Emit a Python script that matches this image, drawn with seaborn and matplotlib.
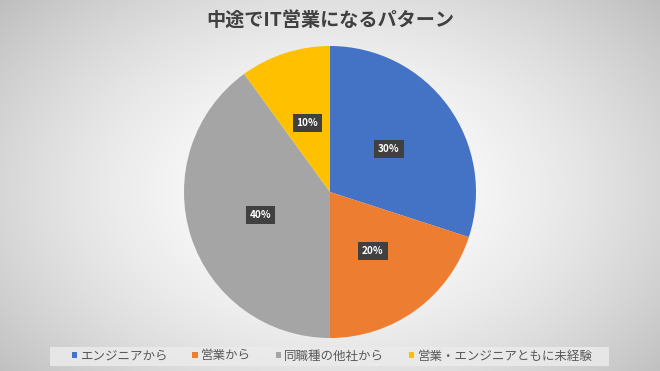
import numpy as np
import matplotlib
matplotlib.use("Agg")
import matplotlib.pyplot as plt
import seaborn as sns
from matplotlib.patches import Patch, Rectangle

# ---------------- DATA ----------------
title = "中途でIT営業になるパターン"
categories = ["エンジニアから", "営業から", "同職種の他社から", "営業・エンジニアともに未経験"]
shares = [30, 20, 40, 10]
colors = ["#4472C4", "#ED7D31", "#A5A5A5", "#FFC000"]

# ---------------- STYLE ----------------
sns.set_theme(style="white")
plt.rcParams["font.family"] = ["Noto Sans CJK JP", "DejaVu Sans"]

W, H = 660, 371
fig = plt.figure(figsize=(W / 100, H / 100), dpi=100)

# radial gradient background
bg = fig.add_axes([0, 0, 1, 1])
yy, xx = np.mgrid[0:H, 0:W]
d = np.sqrt(((xx - 330) / 430.0) ** 2 + ((yy - 190) / 290.0) ** 2)
val = 1.0 - 0.25 * np.clip(d, 0, 1.1) ** 1.7
bg.imshow(np.dstack([val, val, val]), extent=[0, 1, 0, 1], aspect="auto", zorder=0)
bg.set_xlim(0, 1)
bg.set_ylim(0, 1)
bg.set_axis_off()

# legend backdrop
bg.add_patch(Rectangle((50 / W, 1 - 366 / H), 559 / W, 19 / H,
                       facecolor="#ebebeb", edgecolor="none", alpha=0.85, zorder=1))

# pie
ax = fig.add_axes([184 / W, 33 / H, 292 / W, 292 / H])
wedges, texts, autotexts = ax.pie(
    shares,
    colors=sns.color_palette(colors),
    startangle=90,
    counterclock=False,
    radius=1.0,
    autopct="%d%%",
    pctdistance=0.5,
    wedgeprops=dict(linewidth=0),
    textprops=dict(color="white", fontsize=7.2, fontweight="bold"),
)
for t in autotexts:
    t.set_bbox(dict(boxstyle="square,pad=0.4", facecolor="#404040", edgecolor="none"))
ax.set_xlim(-1, 1)
ax.set_ylim(-1, 1)
ax.set_aspect("auto")
ax.set_axis_off()

fig.text(0.5, 1 - 20.5 / H, title, ha="center", va="center",
         fontsize=13.8, fontweight="bold", color="#404040")

handles = [Patch(facecolor=c, edgecolor="none") for c in colors]
leg = fig.legend(
    handles, categories,
    loc="center", bbox_to_anchor=(332 / W, 1 - 356 / H),
    ncol=4, frameon=False, fontsize=9.0,
    handlelength=0.45, handleheight=0.45, handletextpad=0.25,
    columnspacing=1.95, borderpad=0.2,
)
for t in leg.get_texts():
    t.set_color("#595959")

plt.savefig("out.png", dpi=100)
plt.close()
